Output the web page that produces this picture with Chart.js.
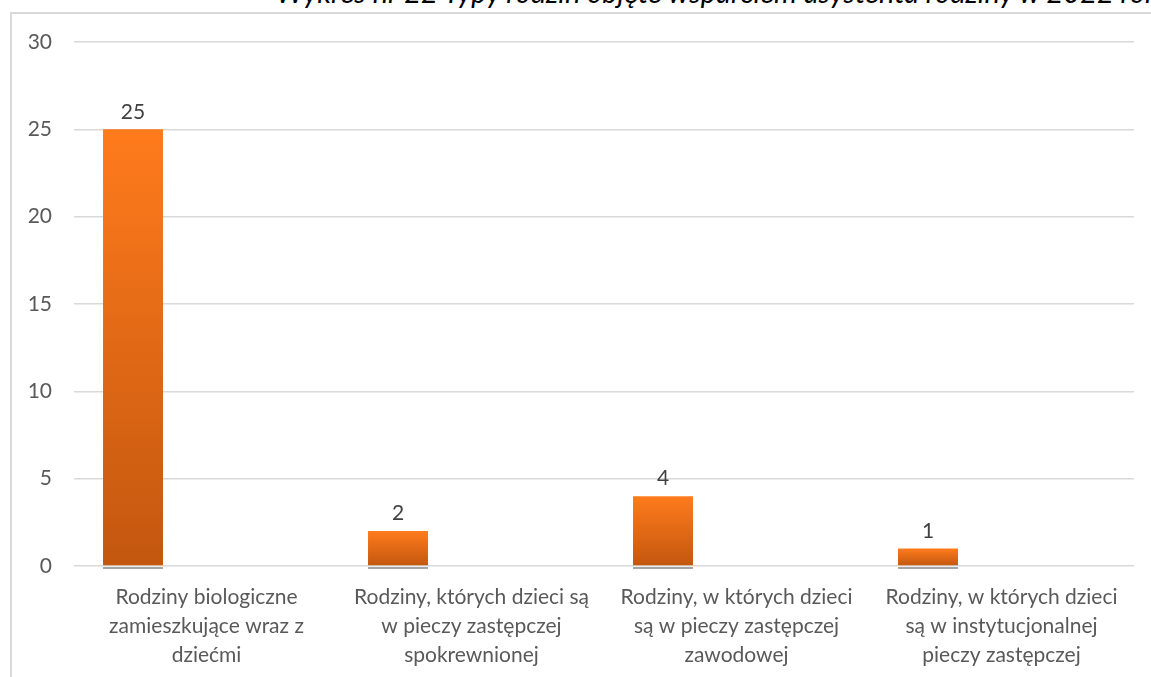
<!DOCTYPE html>
<html>
<head>
<meta charset="utf-8">
<script src="https://cdn.jsdelivr.net/npm/chart.js@4"></script>
<style>
    html, body { margin: 0; padding: 0; background: #fff; overflow: hidden; }
    #wrap { position: relative; width: 1151px; height: 677px; overflow: hidden; }
    #frame {
        position: absolute; left: 10px; top: 12px; width: 1300px; height: 800px;
        border-left: 2px solid #d9d9d9; border-top: 2px solid #d9d9d9;
    }
    #title {
        position: absolute; left: 276px; top: -22px; white-space: nowrap; line-height: 28px;
        font-family: Lato, sans-serif; font-style: italic; font-size: 29px; color: #000;
    }
    canvas { position: absolute; left: 0; top: 0; }
</style>
</head>
<body>
<div id="wrap">
    <div id="frame"></div>
    <div id="title">Wykres nr 22 Typy rodzin objęte wsparciem asystenta rodziny w 2022 roku</div>
    <canvas id="chart" width="1151" height="677"></canvas>
</div>
<script>
// Chart data
const categories = [
    ['Rodziny biologiczne', 'zamieszkujące wraz z', 'dziećmi'],
    ['Rodziny, których dzieci są', 'w pieczy zastępczej', 'spokrewnionej'],
    ['Rodziny, w których dzieci', 'są w pieczy zastępczej', 'zawodowej'],
    ['Rodziny, w których dzieci', 'są w instytucjonalnej', 'pieczy zastępczej']
];
const familyCounts = [25, 2, 4, 1];
const emptySeries = [null, null, null, null]; // empty slots next to the bars, as in the original
const yTicks = [0, 5, 10, 15, 20, 25, 30];

const fontFamily = 'Lato, sans-serif';

// gradient per bar, bright on top, darker at the base
function barGradient(context) {
    const chart = context.chart;
    const { ctx, scales, chartArea } = chart;
    const v = context.raw;
    if (v == null) return 'transparent';
    if (!chartArea || !scales.y) return '#E8700F';
    const top = scales.y.getPixelForValue(v);
    const bottom = scales.y.getPixelForValue(0);
    if (!isFinite(top) || !isFinite(bottom)) return '#E8700F';
    const g = ctx.createLinearGradient(0, top, 0, bottom);
    g.addColorStop(0, '#FF7B1C');
    g.addColorStop(1, '#C3570F');
    return g;
}

// draws the value above each bar
const valueLabels = {
    id: 'valueLabels',
    afterDatasetsDraw(chart) {
        const ctx = chart.ctx;
        const meta = chart.getDatasetMeta(0);
        ctx.save();
        ctx.font = '21px ' + fontFamily;
        ctx.fillStyle = '#404040';
        ctx.textAlign = 'center';
        ctx.textBaseline = 'bottom';
        meta.data.forEach((bar, i) => {
            ctx.fillText(String(familyCounts[i]), bar.x, bar.y - 7);
        });
        // grey line just under each bar
        ctx.fillStyle = '#a6a6a6';
        meta.data.forEach(bar => {
            ctx.fillRect(bar.x - bar.width / 2, chart.scales.y.getPixelForValue(0) + 1, bar.width, 2);
        });
        ctx.restore();
    }
};

const ctx = document.getElementById('chart').getContext('2d');
new Chart(ctx, {
    type: 'bar',
    data: {
        labels: categories,
        datasets: [
            {
                data: familyCounts,
                backgroundColor: barGradient,
                categoryPercentage: 0.832,
                barPercentage: 0.816
            },
            { data: emptySeries, categoryPercentage: 0.832, barPercentage: 0.816 },
            { data: emptySeries, categoryPercentage: 0.832, barPercentage: 0.816 }
        ]
    },
    options: {
        responsive: false,
        animation: false,
        layout: {
            padding: { top: 42, right: 17, left: 0, bottom: 0 }
        },
        scales: {
            x: {
                grid: { display: false },
                border: { display: false },
                ticks: {
                    color: '#595959',
                    font: { family: fontFamily, size: 21, lineHeight: 1.38 },
                    padding: 9,
                    maxRotation: 0,
                    autoSkip: false
                },
                afterFit(scale) { scale.height = 111; }
            },
            y: {
                min: 0,
                max: 30,
                afterBuildTicks(scale) {
                    scale.ticks = yTicks.map(v => ({ value: v }));
                },
                grid: { color: '#d9d9d9', lineWidth: 1.5, drawTicks: false },
                border: { display: false },
                ticks: {
                    color: '#595959',
                    font: { family: fontFamily, size: 21 },
                    padding: 22
                },
                afterFit(scale) { scale.width = 74; }
            }
        },
        plugins: {
            legend: { display: false },
            tooltip: { enabled: false },
            title: { display: false }
        }
    },
    plugins: [valueLabels]
});
</script>
</body>
</html>
